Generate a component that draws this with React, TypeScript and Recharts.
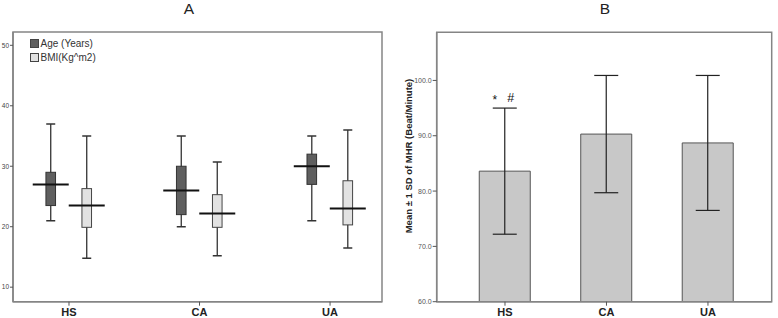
// App.tsx — two-panel figure: A = age/BMI box plots, B = mean ± SD of MHR
import React from "react";
import { ComposedChart, Bar, XAxis, YAxis, ErrorBar, Legend, ReferenceArea } from "recharts";

const FONT = "'Liberation Sans', Arial, sans-serif";
const FRAME = "#858585";

const groups = ["HS", "CA", "UA"];
const groupPos = [0, 1, 2];

// Panel A box plots: min / q1 / median / q3 / max
const ageMin = [21, 20, 21];
const ageQ1 = [23.5, 22, 27];
const ageMedian = [27, 26, 30];
const ageQ3 = [29, 30, 32];
const ageMax = [37, 35, 35];

const bmiMin = [14.8, 15.2, 16.5];
const bmiQ1 = [19.9, 19.9, 20.3];
const bmiMedian = [23.5, 22.2, 23];
const bmiQ3 = [26.3, 25.3, 27.6];
const bmiMax = [35, 30.7, 36];

const ticksA = [10, 20, 30, 40, 50];
const domainA: [number, number] = [7.6, 52.2];
const xDomainA: [number, number] = [-0.429, 2.398];

// Panel B: mean heart rate ± 1 SD
const mhrMean = [83.6, 90.3, 88.7];
const mhrSd = [11.4, 10.6, 12.2];
const mhrNotes = ["*", "", ""];
const mhrNotes2 = ["#", "", ""];

const ticksB = [60, 70, 80, 90, 100];
const domainB: [number, number] = [60, 108.7];
const xDomainB: [number, number] = [-0.673, 2.628];

type Stats = { min: number; q1: number; med: number; q3: number; max: number };

const boxData = groups.map((g, i) => ({
  name: g,
  pos: groupPos[i],
  ageRange: [ageMin[i], ageMax[i]],
  bmiRange: [bmiMin[i], bmiMax[i]],
  age: { min: ageMin[i], q1: ageQ1[i], med: ageMedian[i], q3: ageQ3[i], max: ageMax[i] },
  bmi: { min: bmiMin[i], q1: bmiQ1[i], med: bmiMedian[i], q3: bmiQ3[i], max: bmiMax[i] },
}));

const mhrData = groups.map((g, i) => ({
  name: g,
  pos: groupPos[i],
  mean: mhrMean[i],
  sd: mhrSd[i],
  note: mhrNotes[i],
  note2: mhrNotes2[i],
}));

// box drawn inside the range bar; the bar spans min..max so its pixel height gives the scale
function boxShape(kind: "age" | "bmi", fill: string, stroke: string) {
  return (props: any) => {
    const { x, y, width, height, payload } = props;
    const s: Stats = payload[kind];
    const top = Math.min(y, y + height);
    const h = Math.abs(height);
    const py = (v: number) => top + ((s.max - v) * h) / (s.max - s.min);
    const cx = x + width / 2;
    const bw = 9.6;
    const cap = 4.5;
    return (
      <g>
        <line x1={cx} x2={cx} y1={py(s.max)} y2={py(s.min)} stroke="#333" strokeWidth={1.3} />
        <line x1={cx - cap} x2={cx + cap} y1={py(s.max)} y2={py(s.max)} stroke="#333" strokeWidth={1.5} />
        <line x1={cx - cap} x2={cx + cap} y1={py(s.min)} y2={py(s.min)} stroke="#333" strokeWidth={1.5} />
        <rect x={cx - bw / 2} y={py(s.q3)} width={bw} height={py(s.q1) - py(s.q3)} fill={fill} stroke={stroke} strokeWidth={1} />
        <line x1={x} x2={x + width} y1={py(s.med)} y2={py(s.med)} stroke="#111" strokeWidth={2} />
      </g>
    );
  };
}

function LegendA({ payload }: any) {
  return (
    <div style={{ fontFamily: FONT, fontSize: 10, color: "#333", lineHeight: "13.7px" }}>
      {(payload || []).map((p: any) => (
        <div key={p.value} style={{ display: "flex", alignItems: "center", height: 13.7 }}>
          <span
            style={{
              display: "inline-block",
              width: 7,
              height: 7,
              background: p.payload?.fill ?? p.color,
              border: "1px solid #444",
              marginRight: 1.5,
            }}
          />
          {p.value}
        </div>
      ))}
    </div>
  );
}

function NoteLabel(props: any) {
  const { x, y, width, height, index } = props;
  const d = mhrData[index];
  if (!d || !d.note) return null;
  const ppu = Math.abs(height) / (d.mean - domainB[0]);
  const errTop = Math.min(y, y + height) - d.sd * ppu;
  const cx = x + width / 2;
  return (
    <g fontFamily={FONT} fill="#111">
      <text x={cx - 10} y={errTop - 4} fontSize={12} textAnchor="middle">{d.note}</text>
      <text x={cx + 6} y={errTop - 6} fontSize={12.5} textAnchor="middle">{d.note2}</text>
    </g>
  );
}

function YLabelB({ viewBox }: any) {
  const cx = viewBox.x + 18.7;
  const cy = viewBox.y + viewBox.height / 2 - 11;
  return (
    <text
      x={cx}
      y={cy}
      transform={`rotate(-90 ${cx} ${cy})`}
      textAnchor="middle"
      dominantBaseline="central"
      fontFamily={FONT}
      fontSize={9.5}
      fontWeight="bold"
      fill="#222"
    >
      Mean ± 1 SD of MHR (Beat/Minute)
    </text>
  );
}

const tickX = { fontFamily: FONT, fontSize: 11, fontWeight: "bold", fill: "#222" } as const;
const titleStyle = {
  position: "absolute",
  top: 0,
  width: 20,
  fontSize: 15.5,
  lineHeight: "17px",
  color: "#222",
  textAlign: "center",
} as const;

export default function App() {
  return (
    <div style={{ position: "fixed", left: 0, top: 0, width: 778, height: 318, background: "#fff", fontFamily: FONT }}>
      <div style={{ ...titleStyle, left: 179 }}>A</div>
      <div style={{ ...titleStyle, left: 595 }}>B</div>

      <div style={{ position: "absolute", left: 0, top: 0 }}>
        <ComposedChart width={390} height={318} data={boxData} barGap={0} margin={{ top: 32, right: 8, bottom: 0, left: 0 }}>
          <XAxis
            dataKey="pos"
            type="number"
            domain={xDomainA}
            ticks={groupPos}
            tickFormatter={(v: number) => groups[v] ?? ""}
            allowDataOverflow
            height={16.3}
            tickSize={4}
            tickMargin={2}
            tick={tickX}
            axisLine={{ stroke: FRAME, strokeWidth: 1.5 }}
            tickLine={{ stroke: "#555" }}
          />
          <YAxis
            domain={domainA}
            ticks={ticksA}
            allowDataOverflow
            width={13}
            tickSize={3}
            tickMargin={1}
            tick={{ fontFamily: FONT, fontSize: 6.5, fill: "#444" }}
            axisLine={{ stroke: FRAME, strokeWidth: 1.5 }}
            tickLine={{ stroke: "#555" }}
          />
          <ReferenceArea
            x1={xDomainA[0]}
            x2={xDomainA[1]}
            y1={domainA[0]}
            y2={domainA[1]}
            ifOverflow="visible"
            fill="none"
            stroke={FRAME}
            strokeWidth={1.5}
          />
          <Legend
            layout="vertical"
            align="center"
            verticalAlign="middle"
            wrapperStyle={{ left: 30, top: 37, width: 120 }}
            content={<LegendA />}
          />
          <Bar name="Age (Years)" dataKey="ageRange" barSize={36} fill="#5f5f5f" isAnimationActive={false} shape={boxShape("age", "#5f5f5f", "#333")} />
          <Bar name="BMI(Kg^m2)" dataKey="bmiRange" barSize={36} fill="#e2e2e2" isAnimationActive={false} shape={boxShape("bmi", "#e2e2e2", "#444")} />
        </ComposedChart>
      </div>

      <div style={{ position: "absolute", left: 390, top: 0 }}>
        <ComposedChart width={388} height={318} data={mhrData} margin={{ top: 32.3, right: 6.3, bottom: 0, left: 0 }}>
          <XAxis
            dataKey="pos"
            type="number"
            domain={xDomainB}
            ticks={groupPos}
            tickFormatter={(v: number) => groups[v] ?? ""}
            allowDataOverflow
            height={16.3}
            tickSize={4}
            tickMargin={2}
            tick={tickX}
            axisLine={{ stroke: FRAME, strokeWidth: 1.5 }}
            tickLine={{ stroke: "#555" }}
          />
          <YAxis
            domain={domainB}
            ticks={ticksB}
            allowDataOverflow
            tickFormatter={(v: number) => v.toFixed(1)}
            width={46.7}
            tickSize={4}
            tickMargin={1}
            tick={{ fontFamily: FONT, fontSize: 7, fill: "#555" }}
            axisLine={{ stroke: FRAME, strokeWidth: 1.5 }}
            tickLine={{ stroke: "#555" }}
            label={<YLabelB />}
          />
          <ReferenceArea
            x1={xDomainB[0]}
            x2={xDomainB[1]}
            y1={domainB[0]}
            y2={domainB[1]}
            ifOverflow="visible"
            fill="none"
            stroke={FRAME}
            strokeWidth={1.5}
          />
          <Bar dataKey="mean" barSize={51} fill="#c8c8c8" stroke="#555" strokeWidth={1} isAnimationActive={false} label={<NoteLabel />}>
            <ErrorBar dataKey="sd" width={12} stroke="#222" strokeWidth={1.2} />
          </Bar>
        </ComposedChart>
      </div>
    </div>
  );
}
